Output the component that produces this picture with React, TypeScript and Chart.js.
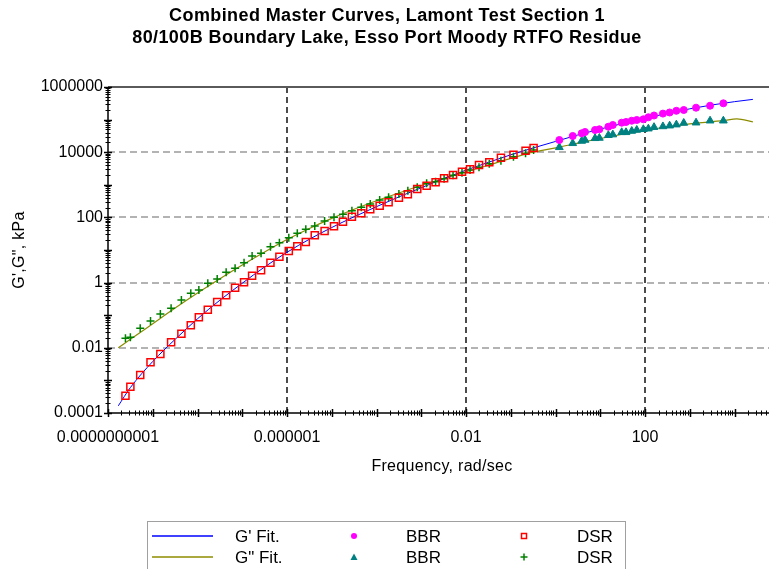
import React, { useEffect, useRef } from 'react';
import { Chart, registerables } from 'chart.js';

Chart.register(...registerables);

// Frequencies are stored as log10(rad/sec), moduli as log10(kPa).
const dsrLogFreq = [
  -9.61, -9.5, -9.28, -9.05, -8.83, -8.59, -8.36, -8.15, -7.97, -7.77,
  -7.56, -7.36, -7.16, -6.96, -6.78, -6.58, -6.37, -6.17, -5.96, -5.77,
  -5.58, -5.38, -5.16, -4.95, -4.75, -4.55, -4.34, -4.14, -3.93, -3.73,
  -3.5, -3.3, -3.09, -2.88, -2.68, -2.49, -2.29, -2.09, -1.91, -1.71,
  -1.48, -1.22, -0.94, -0.67, -0.49,
];
const dsrLogGPrime = [
  -3.469, -3.193, -2.834, -2.445, -2.19, -1.831, -1.567, -1.31, -1.064, -0.831,
  -0.595, -0.39, -0.156, 0.009, 0.212, 0.377, 0.61, 0.794, 0.969, 1.113,
  1.245, 1.451, 1.583, 1.727, 1.868, 2.021, 2.126, 2.248, 2.359, 2.463,
  2.604, 2.709, 2.871, 2.972, 3.077, 3.199, 3.301, 3.402, 3.475, 3.607,
  3.69, 3.831, 3.923, 4.046, 4.129,
];
const dsrLogGDoublePrime = [
  -1.709, -1.678, -1.402, -1.178, -0.963, -0.788, -0.534, -0.328, -0.227, -0.021,
  0.11, 0.316, 0.439, 0.61, 0.816, 0.899, 1.101, 1.224, 1.377, 1.512,
  1.635, 1.736, 1.89, 2.003, 2.095, 2.206, 2.31, 2.411, 2.534, 2.617,
  2.718, 2.819, 2.923, 3.046, 3.095, 3.187, 3.291, 3.371, 3.454, 3.537,
  3.647, 3.739, 3.862, 3.966, 4.067,
];

const bbrLogFreq = [
  0.085, 0.384, 0.585, 0.659, 0.883, 0.979, 1.18, 1.28, 1.479, 1.575, 1.703,
  1.815, 1.962, 2.074, 2.201, 2.4, 2.55, 2.7, 2.865, 3.14, 3.453, 3.75,
];
const bbrLogGPrime = [
  4.374, 4.497, 4.58, 4.62, 4.681, 4.703, 4.782, 4.834, 4.905, 4.926, 4.966,
  4.988, 5.009, 5.071, 5.126, 5.184, 5.218, 5.27, 5.294, 5.365, 5.426, 5.5,
];
const bbrLogGDoublePrime = [
  4.15, 4.273, 4.344, 4.374, 4.426, 4.436, 4.52, 4.54, 4.61, 4.61, 4.65,
  4.681, 4.703, 4.721, 4.767, 4.79, 4.813, 4.845, 4.896, 4.905, 4.966, 4.966,
];

const gPrimeFitLogFreq = [
  -9.77, -9.5, -9.0, -8.5, -8.0, -7.5, -7.0, -6.5, -6.0, -5.5, -5.0, -4.5, -4.0, -3.5, -3.0,
  -2.5, -2.0, -1.5, -1.0, -0.5, 0.0, 0.5, 1.0, 1.5, 2.0, 2.5, 3.0, 3.5, 4.0, 4.41,
];
const gPrimeFitLogG = [
  -3.78, -3.22, -2.42, -1.74, -1.11, -0.54, -0.02, 0.48, 0.93, 1.33, 1.69, 2.02, 2.33, 2.63, 2.91,
  3.19, 3.45, 3.69, 3.92, 4.13, 4.33, 4.53, 4.71, 4.88, 5.04, 5.19, 5.33, 5.45, 5.55, 5.62,
];
const gDoublePrimeFitLogFreq = [
  -9.77, -9.5, -9.0, -8.5, -8.0, -7.5, -7.0, -6.5, -6.0, -5.5, -5.0, -4.5, -4.0, -3.5, -3.0,
  -2.5, -2.0, -1.5, -1.0, -0.5, 0.0, 0.5, 1.0, 1.5, 2.0, 2.5, 3.0, 3.5, 3.75, 4.05, 4.41,
];
const gDoublePrimeFitLogG = [
  -2.0, -1.74, -1.26, -0.78, -0.32, 0.12, 0.54, 0.94, 1.32, 1.66, 1.97, 2.25, 2.51, 2.75, 2.98,
  3.19, 3.4, 3.6, 3.81, 4.0, 4.13, 4.28, 4.42, 4.55, 4.67, 4.78, 4.87, 4.94, 4.97, 5.02, 4.93,
];

const xTickValues = [1e-10, 1e-6, 1e-2, 1e2];
const xTickLabels = ['0.0000000001', '0.000001', '0.01', '100'];
const yTickValues = [1e-4, 1e-2, 1, 1e2, 1e4, 1e6];
const yTickLabels = ['0.0001', '0.01', '1', '100', '10000', '1000000'];

const titleLines = [
  'Combined Master Curves, Lamont Test Section 1',
  '80/100B Boundary Lake, Esso Port Moody RTFO Residue',
];
const xTitle = 'Frequency, rad/sec';
const yTitle = 'G\',G", kPa';

const FONT = "'Liberation Sans', Arial, sans-serif";
const X_MIN = 1e-10;
const X_MAX = 10 ** 4.77;
const Y_MIN = 1e-4;
const Y_MAX = 1e6;

const pairs = (logX: number[], logY: number[]) =>
  logX.map((lx, i) => ({ x: 10 ** lx, y: 10 ** logY[i] }));

// Legend cell placement: [column, row] per dataset index
const legendCells: Array<[number, number]> = [
  [0, 0], [0, 1], [1, 0], [1, 1], [2, 0], [2, 1],
];
const legendCols = [
  { symbol: 182, text: 235 },
  { symbol: 354, text: 406 },
  { symbol: 524, text: 577 },
];
const legendRows = [536, 557];

function strokeLine(ctx: CanvasRenderingContext2D, x1: number, y1: number, x2: number, y2: number) {
  ctx.beginPath();
  ctx.moveTo(x1, y1);
  ctx.lineTo(x2, y2);
  ctx.stroke();
}

const framePlugin = {
  id: 'frame',
  beforeDatasetsDraw(chart: any) {
    const { ctx, chartArea: a } = chart;
    const x = chart.scales.x;
    const y = chart.scales.y;
    ctx.save();
    // horizontal dashed grid
    ctx.setLineDash([7, 4]);
    ctx.strokeStyle = '#9a9a9a';
    ctx.lineWidth = 1.5;
    yTickValues.forEach((v) => {
      const py = Math.round(y.getPixelForValue(v));
      if (py <= a.top + 2 || py >= a.bottom - 2) return;
      strokeLine(ctx, a.left, py, a.right, py);
    });
    // vertical dashed grid
    ctx.setLineDash([6, 4]);
    ctx.strokeStyle = '#111111';
    xTickValues.forEach((v) => {
      const px = Math.round(x.getPixelForValue(v));
      if (px <= a.left + 2 || px >= a.right - 2) return;
      strokeLine(ctx, px, a.top, px, a.bottom);
    });
    ctx.restore();
  },
  afterDatasetsDraw(chart: any) {
    const { ctx, chartArea: a } = chart;
    const x = chart.scales.x;
    const y = chart.scales.y;
    ctx.save();
    ctx.setLineDash([]);
    // top frame line
    ctx.strokeStyle = '#5a5a5a';
    ctx.lineWidth = 2;
    strokeLine(ctx, a.left, a.top, a.right, a.top);
    // axes
    ctx.strokeStyle = '#000000';
    ctx.lineWidth = 1.5;
    ctx.beginPath();
    ctx.moveTo(a.left, a.top);
    ctx.lineTo(a.left, a.bottom);
    ctx.lineTo(a.right, a.bottom);
    ctx.stroke();
    // log tick marks across the axes
    for (let d = -10; d <= 5; d++) {
      for (let k = 1; k <= 9; k++) {
        const px = x.getPixelForValue(k * 10 ** d);
        if (px < a.left - 0.5 || px > a.right) continue;
        const len = k === 1 ? 4 : 2.5;
        ctx.lineWidth = k === 1 ? 1.5 : 1;
        const rx = Math.round(px) + 0.5;
        strokeLine(ctx, rx, a.bottom - len, rx, a.bottom + len);
      }
    }
    for (let d = -4; d <= 6; d++) {
      for (let k = 1; k <= 9; k++) {
        const py = y.getPixelForValue(k * 10 ** d);
        if (py < a.top - 0.5 || py > a.bottom + 0.5) continue;
        const len = k === 1 ? 4 : 2.5;
        ctx.lineWidth = k === 1 ? 1.5 : 1;
        const ry = Math.round(py) + 0.5;
        strokeLine(ctx, a.left - len, ry, a.left + len, ry);
      }
    }
    ctx.restore();
  },
  afterDraw(chart: any) {
    const { ctx, chartArea: a } = chart;
    ctx.save();
    ctx.fillStyle = '#000000';
    // chart title
    ctx.font = `bold 18px ${FONT}`;
    (ctx as any).letterSpacing = '0.4px';
    ctx.textAlign = 'center';
    ctx.textBaseline = 'alphabetic';
    ctx.fillText(titleLines[0], 387, 21);
    ctx.fillText(titleLines[1], 387, 43);
    // axis titles
    ctx.font = `16px ${FONT}`;
    (ctx as any).letterSpacing = '0.3px';
    ctx.fillText(xTitle, 442, 471);
    ctx.save();
    ctx.translate(24, (a.top + a.bottom) / 2);
    ctx.rotate(-Math.PI / 2);
    ctx.fillText(yTitle, 0, 0);
    ctx.restore();
    (ctx as any).letterSpacing = '0px';

    // legend box (continues below the canvas edge)
    ctx.strokeStyle = '#a0a0a0';
    ctx.lineWidth = 1;
    ctx.strokeRect(147.5, 521.5, 478, 60);

    ctx.font = `17px ${FONT}`;
    ctx.textAlign = 'left';
    chart.data.datasets.forEach((ds: any, i: number) => {
      const [col, row] = legendCells[i];
      const cx = legendCols[col].symbol;
      const cy = legendRows[row];
      ctx.save();
      if (ds.showLine) {
        ctx.strokeStyle = ds.borderColor;
        ctx.lineWidth = 1.5;
        strokeLine(ctx, 152, cy, 213, cy);
      } else if (ds.pointStyle === 'circle') {
        ctx.fillStyle = ds.backgroundColor;
        ctx.beginPath();
        ctx.arc(cx, cy, 3, 0, Math.PI * 2);
        ctx.fill();
      } else if (ds.pointStyle === 'triangle') {
        ctx.fillStyle = ds.backgroundColor;
        ctx.beginPath();
        ctx.moveTo(cx, cy - 3.5);
        ctx.lineTo(cx + 3.5, cy + 3);
        ctx.lineTo(cx - 3.5, cy + 3);
        ctx.closePath();
        ctx.fill();
      } else if (ds.pointStyle === 'rect') {
        ctx.strokeStyle = ds.borderColor;
        ctx.lineWidth = 1.5;
        ctx.strokeRect(cx - 2.5, cy - 2.5, 5, 5);
      } else if (ds.pointStyle === 'cross') {
        ctx.strokeStyle = ds.borderColor;
        ctx.lineWidth = 1.5;
        strokeLine(ctx, cx - 3.5, cy, cx + 3.5, cy);
        strokeLine(ctx, cx, cy - 3.5, cx, cy + 3.5);
      }
      ctx.restore();
      ctx.fillStyle = '#000000';
      ctx.fillText(ds.label, legendCols[col].text, cy + 6);
    });
    ctx.restore();
  },
};

export default function App() {
  const canvasRef = useRef<HTMLCanvasElement | null>(null);

  useEffect(() => {
    const canvas = canvasRef.current;
    if (!canvas) return;
    Chart.defaults.font.family = FONT;

    const chart = new Chart(canvas, {
      type: 'scatter',
      data: {
        datasets: [
          {
            label: "G' Fit.",
            data: pairs(gPrimeFitLogFreq, gPrimeFitLogG),
            showLine: true,
            borderColor: '#0000ff',
            borderWidth: 1,
            pointRadius: 0,
            cubicInterpolationMode: 'monotone',
            order: 2,
          },
          {
            label: 'G" Fit.',
            data: pairs(gDoublePrimeFitLogFreq, gDoublePrimeFitLogG),
            showLine: true,
            borderColor: '#8c8c00',
            borderWidth: 1.2,
            pointRadius: 0,
            cubicInterpolationMode: 'monotone',
            order: 2,
          },
          {
            label: 'BBR',
            data: pairs(bbrLogFreq, bbrLogGPrime),
            showLine: false,
            pointStyle: 'circle',
            pointRadius: 3.5,
            backgroundColor: '#ff00ff',
            borderColor: '#ff00ff',
            borderWidth: 1,
            order: 1,
          },
          {
            label: 'BBR',
            data: pairs(bbrLogFreq, bbrLogGDoublePrime),
            showLine: false,
            pointStyle: 'triangle',
            pointRadius: 4.5,
            backgroundColor: '#008080',
            borderColor: '#008080',
            borderWidth: 1,
            order: 1,
          },
          {
            label: 'DSR',
            data: pairs(dsrLogFreq, dsrLogGPrime),
            showLine: false,
            pointStyle: 'rect',
            pointRadius: 5,
            backgroundColor: 'rgba(255,255,255,0)',
            borderColor: '#ff0000',
            borderWidth: 1.5,
            order: 1,
          },
          {
            label: 'DSR',
            data: pairs(dsrLogFreq, dsrLogGDoublePrime),
            showLine: false,
            pointStyle: 'cross',
            pointRadius: 4,
            borderColor: '#008000',
            borderWidth: 1.5,
            order: 1,
          },
        ],
      } as any,
      options: {
        animation: false,
        responsive: false,
        events: [],
        layout: { autoPadding: false, padding: { top: 87, left: 0, right: 0, bottom: 0 } },
        plugins: {
          legend: { display: false },
          title: { display: false },
          tooltip: { enabled: false },
        },
        scales: {
          x: {
            type: 'logarithmic',
            position: 'bottom',
            min: X_MIN,
            max: X_MAX,
            afterBuildTicks: (s: any) => {
              s.ticks = xTickValues.map((value) => ({ value }));
            },
            afterFit: (s: any) => {
              s.height = 156;
            },
            grid: { display: false, drawTicks: false },
            border: { display: false },
            ticks: {
              autoSkip: false,
              maxRotation: 0,
              minRotation: 0,
              padding: 15,
              color: '#000000',
              font: { family: FONT, size: 16 },
              callback: (_v: any, i: number) => xTickLabels[i],
            },
          },
          y: {
            type: 'logarithmic',
            position: 'left',
            min: Y_MIN,
            max: Y_MAX,
            afterBuildTicks: (s: any) => {
              s.ticks = yTickValues.map((value) => ({ value }));
            },
            afterFit: (s: any) => {
              s.width = 108;
            },
            grid: { display: false, drawTicks: false },
            border: { display: false },
            ticks: {
              autoSkip: false,
              padding: 5,
              color: '#000000',
              font: { family: FONT, size: 16 },
              callback: (_v: any, i: number) => yTickLabels[i],
            },
          },
        },
      } as any,
      plugins: [framePlugin],
    });

    return () => chart.destroy();
  }, []);

  return (
    <div style={{ position: 'fixed', left: 0, top: 0, width: 769, height: 569, background: '#ffffff', overflow: 'hidden' }}>
      <canvas ref={canvasRef} width={769} height={569} style={{ display: 'block' }} />
    </div>
  );
}
